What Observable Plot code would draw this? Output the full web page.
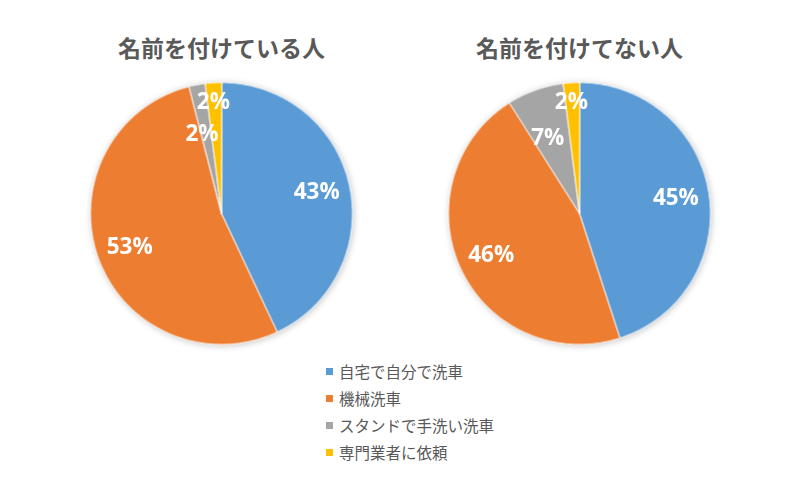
<!DOCTYPE html>
<html>
<head>
<meta charset="utf-8">
<script src="https://cdn.jsdelivr.net/npm/d3@7"></script>
<script src="https://cdn.jsdelivr.net/npm/@observablehq/plot@0.6"></script>
<style>
  body { margin: 0; background: #fff; width: 800px; height: 500px; overflow: hidden; }
  #chart svg { display: block; }
  #chart g[aria-label="line"] { filter: drop-shadow(1px 1px 3px rgba(0,0,0,0.22)); }
  #legend { margin-left: 326px; padding-top: 3px; font-family: "Noto Sans CJK JP", sans-serif; font-size: 15.5px; color: #595959; }
  #legend .row { height: 27px; line-height: 27px; display: flex; align-items: center; }
  #legend .sw { width: 7px; height: 7px; margin-right: 6px; }
</style>
</head>
<body>
<div id="chart"></div>
<div id="legend"></div>
<script>
// ---- data ----
const categories = ["自宅で自分で洗車", "機械洗車", "スタンドで手洗い洗車", "専門業者に依頼"];
const groups = ["名前を付けている人", "名前を付けてない人"];
const valuesNamed = [43, 53, 2, 2];
const valuesUnnamed = [45, 46, 7, 2];
const colors = ["#5B9BD5", "#ED7D31", "#A5A5A5", "#FFC000"];

// label radius (fraction of pie radius) and angular nudge per category, mimicking Excel best-fit placement
const labelRadius = [0.745, 0.745, 0.63, 0.855];
const labelNudge = [0, 0, -0.05, -0.01];

const seriesByGroup = [valuesNamed, valuesUnnamed];

// build slice polygons and label positions from the values
const polys = [];
const labels = [];
groups.forEach((g, gi) => {
  const vals = seriesByGroup[gi];
  const total = d3.sum(vals);
  let cum = 0;
  vals.forEach((v, ci) => {
    const a0 = cum / total * 2 * Math.PI;
    cum += v;
    const a1 = cum / total * 2 * Math.PI;
    const key = g + "|" + ci;
    polys.push({group: g, cat: categories[ci], key, x: 0, y: 0});
    const n = Math.max(2, Math.ceil((a1 - a0) / (Math.PI / 360)));
    for (let i = 0; i <= n; i++) {
      const a = a0 + (a1 - a0) * i / n;
      polys.push({group: g, cat: categories[ci], key, x: Math.sin(a), y: Math.cos(a)});
    }
    const am = (a0 + a1) / 2 + labelNudge[ci];
    const r = labelRadius[ci];
    labels.push({group: g, cat: categories[ci], text: v + "%", x: r * Math.sin(am), y: r * Math.cos(am)});
  });
});

const W = 800, H = 355;
const R = 131;          // pie radius in px
const cy = 213;         // pie centre y in px
const panel = 300, gap = 58;
const side = (W - 2 * panel - gap) / 2;

const chart = Plot.plot({
  width: W,
  height: H,
  marginLeft: side,
  marginRight: side,
  marginTop: 0,
  marginBottom: 0,
  x: {domain: [-(panel / 2) / R, (panel / 2) / R], axis: null},
  y: {domain: [-(H - cy) / R, cy / R], axis: null},
  fx: {domain: groups, paddingInner: gap / (panel + gap), paddingOuter: 0, axis: null},
  color: {domain: categories, range: colors},
  style: {background: "white"},
  marks: [
    Plot.line(polys, {x: "x", y: "y", z: "key", fx: "group", fill: "cat", stroke: "white", strokeWidth: 1, curve: "linear-closed"}),
    Plot.text(labels, {x: "x", y: "y", fx: "group", text: "text", fill: "white", fontSize: 22.5, fontWeight: "bold", fontFamily: "'Open Sans', sans-serif"}),
    Plot.text(groups, {fx: d => d, x: d => 0, y: d => 164 / R, text: d => d, fill: "#595959", fontSize: 23, fontWeight: "bold", fontFamily: "'Noto Sans CJK JP', sans-serif"})
  ]
});
document.getElementById("chart").appendChild(chart);

// legend
const legend = document.getElementById("legend");
categories.forEach((c, i) => {
  const row = document.createElement("div");
  row.className = "row";
  const sw = document.createElement("span");
  sw.className = "sw";
  sw.style.background = colors[i];
  const t = document.createElement("span");
  t.textContent = c;
  row.appendChild(sw);
  row.appendChild(t);
  legend.appendChild(row);
});
</script>
</body>
</html>
